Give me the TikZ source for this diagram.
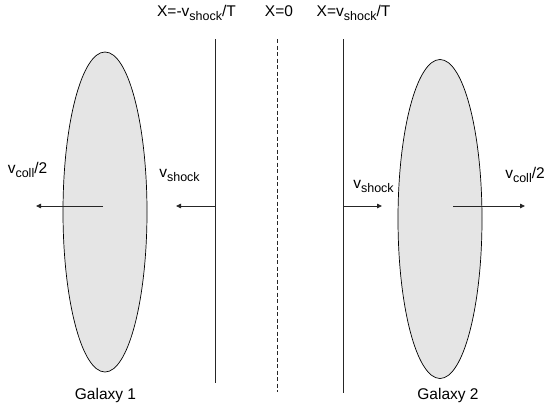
\documentclass[tikz,border=0pt]{standalone}
\usepackage{fontspec}
\setmainfont{Liberation Sans}
\usepackage{tikz}
\usetikzlibrary{arrows.meta, calc}
\newcommand{\lowtext}[1]{\raisebox{-4.5pt}{\fontsize{12.5}{14}\selectfont #1}}

\begin{document}
\begin{tikzpicture}[x=1pt, y=-1pt,
        lbl/.style={anchor=base, inner sep=0pt, font=\fontsize{15.5}{18}\selectfont},
        galaxy/.style={draw=black, line width=0.7pt, fill=gray!20},
        front/.style={draw=black!85, line width=0.8pt},
        vel/.style={draw=black!85, line width=0.8pt, -{Triangle[length=5pt, width=4.5pt]}}]
        \useasboundingbox (0,0) rectangle (546,410);

        % galaxies
        \coordinate (g1) at (105,212);
        \coordinate (g2) at (440,219);
        \draw[galaxy] (g1) ellipse (42 and 160);
        \draw[galaxy] (g2) ellipse (42 and 159.5);

        % shock fronts
        \coordinate (sl top) at (215,39);
        \coordinate (sl bot) at (215,383);
        \coordinate (mid top) at (277,39);
        \coordinate (mid bot) at (277,392);
        \coordinate (sr top) at (343,39);
        \coordinate (sr bot) at (343,393);
        \draw[front] (sl top) -- (sl bot);
        \draw[front, dash pattern=on 4pt off 2.5pt] (mid top) -- (mid bot);
        \draw[front] (sr top) -- (sr bot);

        % velocities
        \coordinate (a1) at (103,206);
        \coordinate (t1) at (36,206);
        \coordinate (a2) at (215,206);
        \coordinate (t2) at (176,206);
        \coordinate (a3) at (343,206);
        \coordinate (t3) at (382,206);
        \coordinate (a4) at (453,206);
        \coordinate (t4) at (525,206);
        \draw[vel] (a1) -- (t1);
        \draw[vel] (a2) -- (t2);
        \draw[vel] (a3) -- (t3);
        \draw[vel] (a4) -- (t4);

        \node[lbl] (xl) at (196.5,16) {X=-v\lowtext{shock}/T};
        \node[lbl] (x0) at (279,16) {X=0};
        \node[lbl] (xr) at (353.5,16) {X=v\lowtext{shock}/T};
        \node[lbl] (vc1) at (27.5,173) {v\lowtext{coll}/2};
        \node[lbl] (vs1) at (179.5,177) {v\lowtext{shock}};
        \node[lbl] (vs2) at (373.5,188) {v\lowtext{shock}};
        \node[lbl] (vc2) at (525,178) {v\lowtext{coll}/2};
        \node[lbl] (n1) at (105.5,399) {Galaxy 1};
        \node[lbl] (n2) at (448,399) {Galaxy 2};
    \end{tikzpicture}
\end{document}
